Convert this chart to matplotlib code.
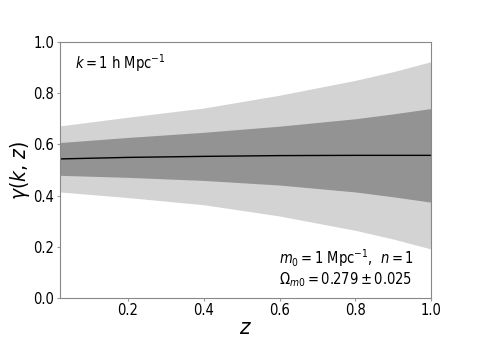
import numpy as np
import matplotlib
matplotlib.use('Agg')
import matplotlib.pyplot as plt
from matplotlib import font_manager

# redshift grid and gamma(k, z) bands
z = [0.02, 0.2, 0.4, 0.6, 0.8, 0.9, 1.0]
gamma_mean = [0.543, 0.549, 0.553, 0.556, 0.557, 0.557, 0.557]
inner_up = [0.607, 0.627, 0.647, 0.671, 0.700, 0.719, 0.740]
inner_lo = [0.479, 0.471, 0.459, 0.441, 0.414, 0.395, 0.374]
outer_up = [0.672, 0.706, 0.742, 0.792, 0.850, 0.884, 0.923]
outer_lo = [0.414, 0.392, 0.364, 0.320, 0.264, 0.230, 0.191]

# the reference uses a narrow sans; use DejaVu Sans Condensed if it is there
cond = [f for f in font_manager.fontManager.ttflist
        if f.name == 'DejaVu Sans' and f.stretch == 'condensed']
if cond:
    plt.rcParams['font.stretch'] = 'condensed'
    plt.rcParams['mathtext.fontset'] = 'custom'
    plt.rcParams['mathtext.rm'] = 'DejaVu Sans:stretch=condensed'
    plt.rcParams['mathtext.it'] = 'DejaVu Sans:italic:stretch=condensed'
    plt.rcParams['mathtext.bf'] = 'DejaVu Sans:bold:stretch=condensed'
    plt.rcParams['mathtext.sf'] = 'DejaVu Sans:stretch=condensed'
    fs_tick, fs_txt = 10.5, 10.5
else:
    fs_tick, fs_txt = 10, 9.3

fig = plt.figure(figsize=(4.79, 3.44), dpi=100)
ax = fig.add_axes([0.125, 0.134, 0.775, 0.744])

ax.fill_between(z, outer_lo, outer_up, color='#d3d3d3', lw=0)
ax.fill_between(z, inner_lo, inner_up, color='#939393', lw=0)
ax.plot(z, gamma_mean, color='k', lw=1)

ax.set_xlim(0.02, 1.0)
ax.set_ylim(0.0, 1.0)
ax.set_xticks([0.2, 0.4, 0.6, 0.8, 1.0])
ax.set_yticks([0.0, 0.2, 0.4, 0.6, 0.8, 1.0])
ax.tick_params(labelsize=fs_tick, length=2, color='#999999', pad=2)
for s in ax.spines.values():
    s.set_color('#888888')

ax.set_xlabel('$z$', fontsize=16, labelpad=0)
ax.set_ylabel(r'$\gamma(k,\,z)$', fontsize=15, labelpad=1)

ax.text(0.04, 0.96, r'$k = 1$ h Mpc$^{-1}$', transform=ax.transAxes,
        fontsize=fs_txt, va='top')
ax.text(0.59, 0.156, r'$m_0 = 1$ Mpc$^{-1}$,  $n = 1$', transform=ax.transAxes,
        fontsize=fs_txt, va='center')
ax.text(0.59, 0.07, r'$\Omega_{m0} = 0.279 \pm 0.025$', transform=ax.transAxes,
        fontsize=fs_txt, va='center')

fig.savefig('out.png', dpi=100)
